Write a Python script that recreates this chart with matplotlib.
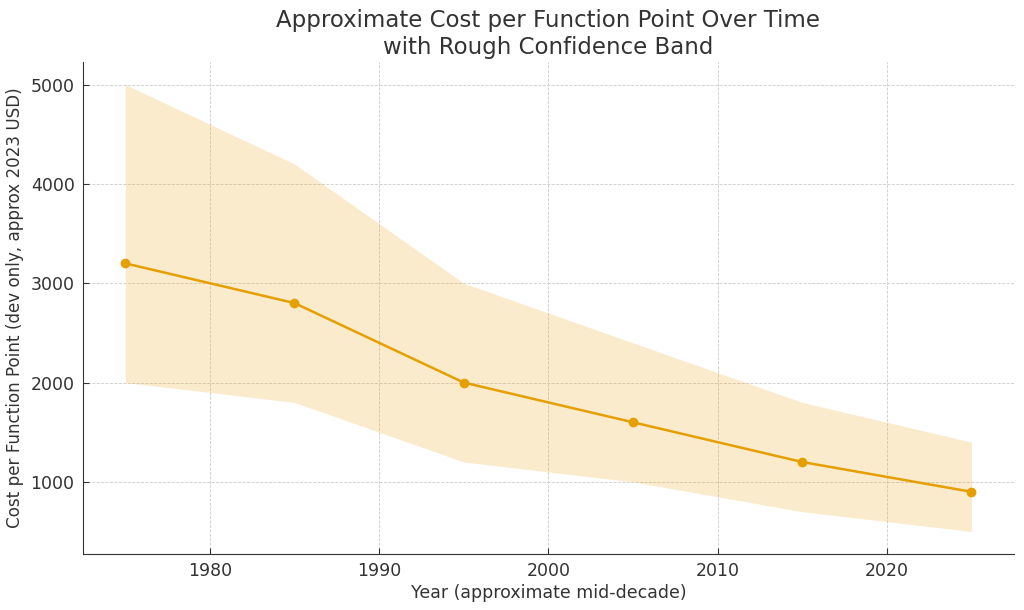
import matplotlib
matplotlib.use("Agg")
import matplotlib.pyplot as plt

# Data
years = [1975, 1985, 1995, 2005, 2015, 2025]
cost = [3200, 2800, 2000, 1600, 1200, 900]
cost_low = [2000, 1800, 1200, 1000, 700, 500]
cost_high = [5000, 4200, 3000, 2400, 1800, 1400]

line_color = "#E69F00"
text_color = "#333333"

plt.rcParams["font.family"] = "DejaVu Sans"
plt.rcParams["text.color"] = text_color
plt.rcParams["axes.labelcolor"] = text_color
plt.rcParams["xtick.color"] = text_color
plt.rcParams["ytick.color"] = text_color

fig, ax = plt.subplots(figsize=(10.24, 6.1), dpi=100)
fig.subplots_adjust(left=0.081, right=0.99, top=0.898, bottom=0.092)

ax.fill_between(years, cost_low, cost_high, color=line_color, alpha=0.2, linewidth=0)
ax.plot(years, cost, color=line_color, marker="o", markersize=6, linewidth=1.8)

ax.set_title("Approximate Cost per Function Point Over Time\nwith Rough Confidence Band",
             fontsize=16.5, color=text_color, pad=6)
ax.set_xlabel("Year (approximate mid-decade)", fontsize=12.5, labelpad=3)
ax.set_ylabel("Cost per Function Point (dev only, approx 2023 USD)", fontsize=12.1, labelpad=5)

ax.grid(True, linestyle="--", linewidth=0.6, color="#cccccc")
ax.set_axisbelow(True)
ax.spines["top"].set_visible(False)
ax.spines["right"].set_visible(False)
ax.spines["left"].set_color(text_color)
ax.spines["bottom"].set_color(text_color)
ax.tick_params(labelsize=12.5, direction="in", length=4, pad=6)

fig.savefig("out.png", dpi=100)
